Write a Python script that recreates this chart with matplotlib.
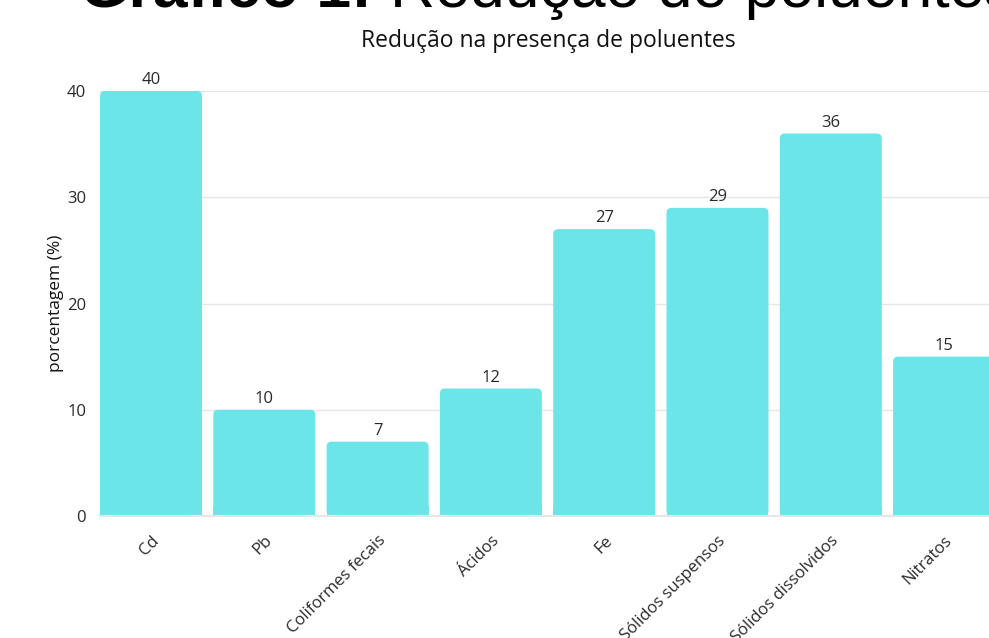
import matplotlib.pyplot as plt
from matplotlib.patches import FancyBboxPatch, Rectangle

plt.rcParams['font.family'] = ['Open Sans', 'DejaVu Sans']

# dados
categorias = ['Cd', 'Pb', 'Coliformes fecais', 'Ácidos', 'Fe',
              'Sólidos suspensos', 'Sólidos dissolvidos', 'Nitratos']
valores = [40, 10, 7, 12, 27, 29, 36, 15]
y_ticks = [0, 10, 20, 30, 40]

cor_barra = '#6be5e8'
cor_grade = '#e6e6e6'
cor_texto = '#2a2a2a'

fig = plt.figure(figsize=(9.89, 6.38), dpi=100)

# área do gráfico (sai um pouco para fora da figura à direita, como no original)
px_cat = 113.3
x0, x1 = -0.45, 7.55
ax = fig.add_axes([100 / 989, 122 / 638, (x1 - x0) * px_cat / 989, 425 / 638])

x = list(range(len(categorias)))
barras = ax.bar(x, valores, width=0.9, color=cor_barra, zorder=2)

# cantos superiores arredondados
raio_x = 5 / px_cat
raio_y = 5 / 10.625
for b in barras:
    bx, by, bw, bh = b.get_x(), b.get_y(), b.get_width(), b.get_height()
    b.set_visible(False)
    ax.add_patch(FancyBboxPatch((bx, by), bw, bh,
                                boxstyle='round,pad=0,rounding_size=%f' % raio_x,
                                mutation_aspect=raio_y / raio_x,
                                facecolor=cor_barra, edgecolor='none', zorder=2))
    ax.add_patch(Rectangle((bx, by), bw, raio_y * 2, facecolor=cor_barra,
                           edgecolor='none', linewidth=0, zorder=2))
    ax.text(bx + bw / 2, bh + 0.25, str(int(bh)), ha='center', va='bottom',
            fontsize=12, color=cor_texto)

ax.set_xlim(x0, x1)
ax.set_ylim(0, 40)
ax.set_yticks(y_ticks)
ax.set_yticklabels([str(v) for v in y_ticks], fontsize=12, color=cor_texto)
ax.set_xticks(x)
ax.set_xticklabels(categorias, rotation=45, ha='right', rotation_mode='anchor',
                   fontsize=12, color=cor_texto)
ax.tick_params(axis='both', length=0)
ax.tick_params(axis='y', pad=10)
ax.tick_params(axis='x', pad=12)

ax.grid(axis='y', color=cor_grade, linewidth=1, zorder=0)
for lado in ['top', 'right', 'left']:
    ax.spines[lado].set_visible(False)
ax.spines['bottom'].set_color(cor_grade)
ax.spines['bottom'].set_linewidth(1.5)

ax.set_ylabel('porcentagem (%)', fontsize=12.5, color='#111111', labelpad=2)

# subtítulo
fig.text(548 / 989, 1 - 47 / 638, 'Redução na presença de poluentes',
         ha='center', va='baseline', fontsize=16.5, color='#111111')

# título grande (cortado no topo)
t1 = fig.text(80 / 989, 1 - 7 / 638, 'Gráfico 1:', ha='left', va='baseline',
              fontsize=45, fontweight='bold', family='Liberation Sans', color='black')
fig.canvas.draw()
bb = t1.get_window_extent()
fig.text(bb.x1 / 989 + 0.018, 1 - 7 / 638, 'Redução de poluentes', ha='left',
         va='baseline', fontsize=45, family='Liberation Sans', color='black')

fig.savefig('out.png', dpi=100)
